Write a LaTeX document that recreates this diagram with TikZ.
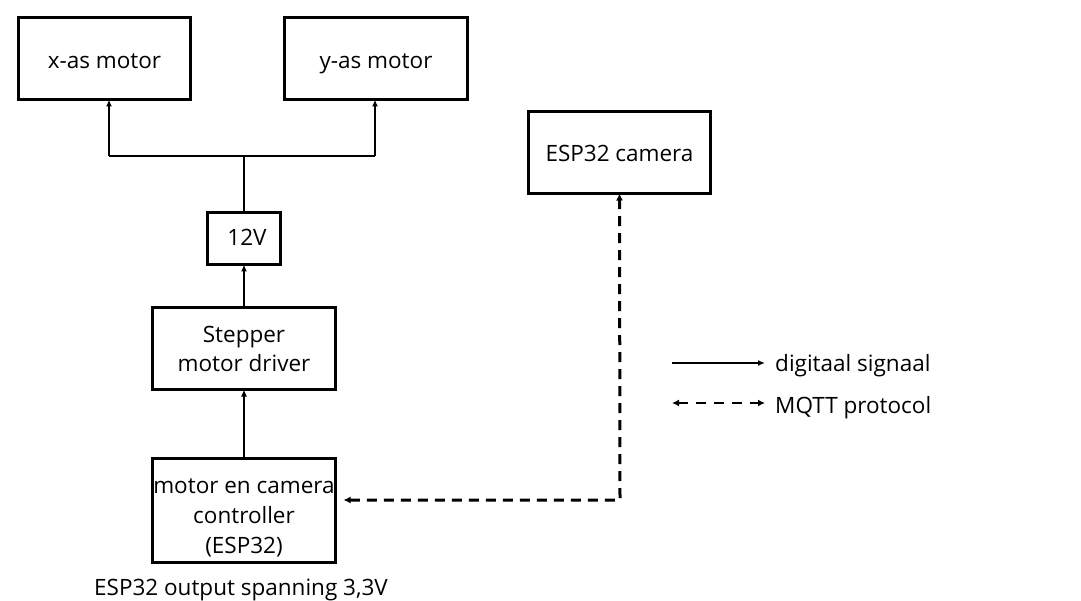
\documentclass[tikz,border=0pt]{standalone}
\usepackage{fontspec}
\setmainfont{Open Sans}
\usetikzlibrary{arrows.meta}
\newcommand{\lowtext}[2]{\raisebox{-#1}[\height][\depth]{#2}}
\begin{document}
\begin{tikzpicture}[x=1pt,y=-1pt,
  box/.style={draw,line width=3pt,inner sep=0pt,outer sep=0pt,align=center,
    font=\fontsize{22.5}{30}\selectfont},
  sig/.style={line width=1.5pt,-{Latex[length=7pt,width=6pt]}},
  mqtt/.style={line width=3pt,dash pattern=on 10pt off 7pt,
    {Latex[length=7pt,width=7pt]}-{Latex[length=7pt,width=7pt]}},
  lbl/.style={inner sep=0pt,font=\fontsize{22.5}{30}\selectfont}]
\useasboundingbox (0,0) rectangle (1081,601);
\node[box,minimum width=172pt,minimum height=82pt] (xm) at (104.5,58.5) {\lowtext{4pt}{\strut x-as motor}};
\node[box,minimum width=183pt,minimum height=82pt] (ym) at (376,58.5) {\lowtext{4pt}{\strut y-as motor}};
\node[box,minimum width=182pt,minimum height=82pt] (cam) at (619.5,152.5) {\lowtext{3pt}{\strut ESP32 camera}};
\node[box,minimum width=73pt,minimum height=52pt] (v12) at (244,238.5) {\lowtext{1.5pt}{\strut\hspace*{6pt}12V}};
\node[box,minimum width=183pt,minimum height=82pt] (drv) at (244,348.5) {\lowtext{2.5pt}{\begin{tabular}{@{}c@{}}Stepper\\motor driver\end{tabular}}};
\node[box,minimum width=183pt,minimum height=104pt] (ctrl) at (244,510.5) {\lowtext{7pt}{\begin{tabular}{@{}c@{}}motor en camera\\controller\\(ESP32)\end{tabular}}};
\node[lbl] (note) at (241,589) {\strut ESP32 output spanning 3,3V};
\coordinate (j) at (244,156);
\coordinate (jl) at (109,156);
\coordinate (jr) at (375,156);
\draw[line width=1.5pt] (v12.north) -- (j);
\draw[line width=1.5pt] (jl) -- (jr);
\draw[sig] (jl) -- (jl |- xm.south);
\draw[sig] (jr) -- (jr |- ym.south);
\draw[sig] (drv.north) -- (v12.south);
\draw[sig] (ctrl.north) -- (drv.south);
\coordinate (d) at (620,500);
\draw[mqtt,shorten <=8pt] (d -| ctrl.east) -- (d) -- (cam.south);
% legend
\coordinate (l1a) at (672,363);
\coordinate (l1b) at (765,363);
\coordinate (l2a) at (672,403);
\coordinate (l2b) at (765,403);
\draw[sig] (l1a) -- (l1b);
\draw[mqtt,line width=2.5pt,dash pattern=on 10pt off 8pt] (l2a) -- (l2b);
\node[lbl,anchor=west] (t1) at (775,365) {\strut digitaal signaal};
\node[lbl,anchor=west] (t2) at (775,407) {\strut MQTT protocol};
\end{tikzpicture}
\end{document}
